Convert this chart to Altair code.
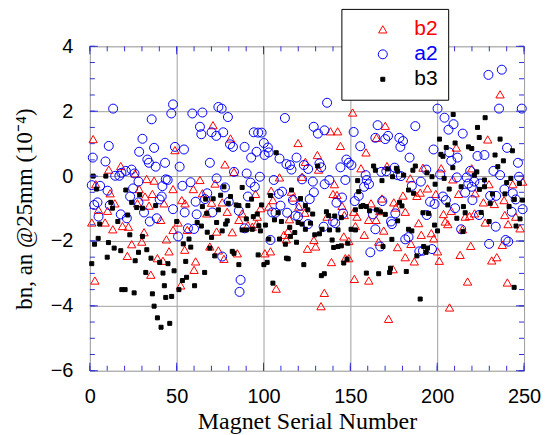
import altair as alt
import pandas as pd

# ---- data (serial number, value in 1e-4) ----
b2_pts = [
 (1.9,1.14),(49,0.8),(10.9,0.2),(17.8,0.31),(26,0.08),(32.7,-0.09),(37,-0.14),(3.4,-0.25),(11.7,-0.53),(28.4,-0.4),
 (36,-0.55),(31.8,-0.63),(47.9,-0.4),(14.4,-0.84),(27.4,-0.84),(34.1,-0.91),(42.7,-0.84),(5,-1.04),(10.2,-1.07),(40.8,-1.35),
 (1.1,-1.43),(8.8,-1.43),(18.8,-1.54),(22.2,-1.56),(13.2,-1.64),(31.2,-1.73),(47.9,-1.66),(44.1,-1.95),(24.1,-2.1),(29.9,-2.02),
 (45.6,-2.32),(21.6,-2.46),(38.9,-2.53),(42.1,-2.61),(35.1,-3.04),(2.9,-3.22),
 (70.9,1.57),(81,1.16),(77.8,0.36),(83,0.13),(63.4,-0.12),(59.6,-0.4),(72.1,-0.23),(64.8,-0.53),(52.9,-0.74),(54.8,-0.84),
 (70.1,-0.82),(76.2,-0.81),(67.3,-1.15),(79.1,-1.1),(87.7,-1.15),(85.8,-1.35),(91,-1.51),(96,-1.47),(50.8,-1.43),(56.1,-1.66),
 (73,-1.71),(82,-1.73),(93.5,-1.56),(54.6,-2.27),(69.1,-2.17),(74,-2.29),(84.9,-2.38),(77.2,-2.55),(60.9,-2.63),(60,-2.89),(52.3,-3.37),
 (138.5,1.38),(142.7,1.38),(119.9,1.02),(144.3,0.93),(131,0.65),(124.1,0.44),(131.7,0.2),(122.2,-0.02),(109.2,-0.04),(140.8,-0.25),
 (95.4,-0.55),(104.4,-0.45),(116.1,-0.48),(117.1,-0.66),(105.4,-0.74),(140,-0.55),(142.3,-0.58),(98.3,-0.99),(103,-0.94),(120.3,-0.94),
 (114.9,-1.33),(123.8,-1.13),(136.6,-1.25),(96.4,-1.25),(146.5,-1.2),(114.2,-1.69),(111.7,-1.81),(113.1,-1.95),(129,-1.97),
 (130,-2.17),(125.3,-2.24),(146.2,-1.86),(100.8,-2.38),(104,-2.32),(139.1,-2.65),(107.3,-3.47),(135,-3.6),(133.1,-4.01),
 (151.3,1.96),(170.1,1.55),(165,1.18),(159,0.73),(156.1,0.24),(171.1,0.31),(191.8,0.26),(184.5,-0.07),(194.4,-0.38),(188.3,-0.61),
 (190.2,-0.51),(180.3,-0.6),(168.2,-0.69),(161.9,-0.84),(145.2,-0.92),(175,-0.81),(176.2,-0.97),(151.9,-1.1),(166.9,-1.08),(181.6,-1.1),
 (153.8,-1.25),(164.8,-1.35),(189.3,-1.45),(160.5,-1.35),(169.2,-1.68),(152.9,-1.54),(158,-1.81),(190.8,-1.81),(149.1,-2),
 (184.9,-2.09),(166.3,-2.02),(177.2,-2.19),(181.6,-2.5),(186.8,-2.63),(147.1,-2.53),(149.1,-2.53),(174.6,-2.87),(152.3,-3.17),(160.6,-3.22),(172,-4.4),
 (236.2,2.52),(229.1,1.13),(211,0.88),(202.3,0.24),(219.9,0.24),(209,-0.1),(229.8,-0.25),(243.5,-0.25),(249.2,-0.17),(199.2,-0.55),
 (212.3,-0.55),(221.8,-0.53),(226.6,-0.81),(232.9,-0.86),(238.5,-0.74),(208.1,-1.07),(203.6,-1.17),(245.2,-1.25),(216.1,-1.25),(218.6,-1.23),
 (221.5,-1.15),(227.6,-1.43),(238.9,-1.2),(240.8,-1.48),(204.6,-1.4),(206.1,-1.48),(214.5,-1.64),(247.7,-1.61),(196.6,-1.76),(198,-1.92),
 (219.3,-2.15),(237.5,-2.12),(200.2,-2.32),(213.2,-2.43),(234.3,-2.5),(231.4,-2.6),(201.2,-2.61),(217.5,-3.25),(240.4,-3.28),(207.1,-4.05),
]
a2_pts = [
 (47.9,2.21),(13.4,2.08),(46.9,1.93),(35.6,1.75),(30.3,1.15),(10.9,0.93),(37,0.87),(49,0.9),(1.7,0.57),(28.4,0.75),
 (33.1,0.51),(34,0.41),(9,0.45),(37.9,0.29),(43.3,0.41),(24,0.2),(20.7,0.16),(18.2,0.1),(14.6,0.01),(17,0.01),
 (25.7,0.08),(28,-0.17),(1.1,-0.28),(5.9,-0.3),(24.9,-0.38),(41.8,-0.31),(44.8,-0.12),(43.7,-0.1),(10.2,-0.45),(23.2,-0.63),
 (41.4,-0.63),(40.2,-0.72),(28,-0.81),(4.4,-0.81),(2.5,-0.89),(11.5,-0.9),(31.2,-1.12),(47.9,-1.02),(5,-1.25),(17.8,-1.18),
 (21.3,-1.3),(34.5,-1.4),(38.5,-1.3),
 (59,1.93),(64.8,1.96),(74,2.13),(75.9,2.08),(79.5,1.82),(63.4,1.52),(64.2,1.29),(70.1,1.35),(72.8,1.24),(76.8,1.35),
 (94.4,1.35),(96.9,1.34),(80.7,0.98),(82.4,0.9),(89.1,0.9),(96,0.75),(92.9,0.57),(54.2,0.82),(51.7,0.29),(69.1,0.41),
 (83,0.13),(90.3,0.08),(73,-0.07),(97.9,-0.02),(53.3,-0.3),(58,-0.19),(77.8,-0.35),(92.5,-0.2),(95,-0.33),(67.6,-0.53),
 (66.3,-0.71),(60.9,-0.79),(80,-0.79),(91,-0.63),(54.6,-1.12),(61.5,-1.18),(70.5,-1.12),(85.8,-1.07),(56.5,-1.61),(60,-1.63),
 (50.8,-1.86),(89.1,-1.61),(76.2,-2.48),(86.8,-3.2),(86.2,-3.57),
 (136.6,2.26),(112.3,1.79),(128.9,1.52),(131.3,1.31),(135.1,1.41),(98.9,1.34),(100.2,1.02),(102.5,0.88),(103,0.73),(100.6,0.65),
 (109.2,0.54),(113.2,0.37),(115.2,0.34),(116.1,0.2),(119,0.57),(123.2,0.34),(125.7,0.22),(132.2,0.39),(133.2,0.27),(144.3,0.27),
 (105.9,-0.12),(122.2,-0.1),(128.4,-0.17),(137.9,-0.12),(135.2,-0.25),(110.7,-0.48),(108.8,-0.55),(129,-0.5),(126.6,-0.71),
 (116.9,-0.74),(142,-0.82),(109.8,-0.91),(121.3,-0.91),(106.9,-1.13),(113.6,-1.13),(118.4,-1.22),(119.9,-1.25),(140,-1.4),(141.3,-1.45),
 (134.6,-1.56),(125.7,-1.48),(104,-1.97),(105,-1.12),
 (151.9,1.36),(165.7,1.57),(171.7,1.24),(170.1,1.14),(164.4,1.18),(178.2,1.18),(180.3,1.08),(178.8,0.9),(187.4,1.54),(155.7,0.92),
 (184.1,0.57),(147.7,0.51),(149.1,0.41),(150.6,0.34),(158.8,0.03),(159.4,-0.12),(160.7,-0.25),(157.9,-0.33),(147.1,-0.12),
 (167.8,0.13),(170.7,0.15),(175.5,0.26),(179.1,0),(177.2,0.03),(185.4,-0.3),(190.6,-0.17),(193.7,0.2),(145.2,-0.66),(152.5,-0.77),
 (154.8,-0.61),(168.4,-0.77),(145.8,-1.15),(163,-1.18),(175.9,-1.15),(173.4,-1.4),(173.9,-1.48),(164.4,-1.64),(181.6,-1.95),(183.5,-1.88),
 (189.7,-2.32),(161.5,-2.35),(167.2,-2.17),(191.8,-2.3),
 (229.5,3.12),(237.2,3.28),(235.6,2.08),(248.7,2.08),(200.2,2.08),(204.2,1.8),(209.4,1.6),(206.5,1.43),(214.7,1.31),(197.9,0.82),
 (207,0.73),(211.7,0.57),(208.1,0.47),(223.2,0.62),(227.2,0.65),(240.2,0.87),(246.5,0.41),(201.7,0.05),(219,0.16),
 (232.4,0.16),(236.2,0.03),(247.1,-0.02),(211.3,-0.04),(217,-0.04),(217.9,-0.23),(221.4,-0.17),(224.7,-0.23),(219.9,-0.33),(216.1,-0.51),
 (230.5,-0.61),(233.9,-0.61),(238.7,-0.41),(243.5,-0.53),(245.2,-0.72),(195.9,-0.79),(198.5,-0.86),(203.3,-0.63),(205,-0.74),(210.3,-0.99),
 (220.3,-0.74),(224.1,-1.2),(242.9,-1.1),(249.2,-1.02),(194,-1.2),(213.8,-1.64),(233.7,-1.56),(197,-2.25),(229.9,-2.09),(239.4,-1.97),(240.9,-2.02),
]
b3_pts = [
 (1.9,0),(9.2,0),(3.8,-0.4),(20.7,-0.43),(28.7,-0.58),(12.1,-0.81),(24.1,-0.81),(37.9,-0.91),(13,-0.99),(27,-0.97),
 (30.3,-0.99),(21.8,-1.2),(5.7,-1.48),(16.1,-1.4),(23,-1.81),(4.8,-1.92),(30.3,-1.86),(2.7,-2.1),(10.7,-2.05),(14,-2.22),
 (17.8,-2.3),(28,-2.35),(32.8,-2.27),(10,-2.5),(26.1,-2.61),(35.2,-2.53),(40.2,-2.66),(45,-2.7),(48.5,-2.92),(1.1,-2.7),
 (32.2,-2.97),(42.1,-2.99),(42.9,-3.38),(18.4,-3.5),(20.3,-3.5),(25.5,-3.6),(36,-3.63),(43.7,-3.74),(47.1,-3.71),(37,-4.01),
 (38.9,-4.37),(41,-4.66),(46,-4.54),
 (77.2,-0.33),(87.7,-0.35),(75.3,-0.59),(81,-0.63),(71,-0.7),(66.7,-0.71),(79.7,-0.84),(84.3,-0.89),(85.8,-0.91),(91,-0.91),
 (93.1,-0.71),(64.8,-0.94),(74,-1.04),(67.3,-1.15),(96.4,-1.17),(90.1,-1.32),(94.1,-1.25),(50,-1.4),(61.8,-1.43),(73,-1.43),
 (79.1,-1.38),(78.2,-1.48),(64.2,-1.54),(67.6,-1.73),(76.2,-1.69),(87.7,-1.66),(90.1,-1.66),(93.5,-1.64),(98.2,-1.69),(70.1,-1.89),
 (57.1,-1.94),(53.8,-2.09),(58.1,-2.19),(69.1,-2.22),(82,-2.32),(83,-2.38),(71.9,-2.46),(96.9,-2.43),(55.2,-2.63),(66.1,-2.97),
 (55.7,-3.12),(53.3,-3.22),(60.3,-3.38),(51.3,-3.5),(85.8,-2.73),
 (107.3,0.72),(131.2,0.31),(116.1,-0.43),(104,-0.6),(121.3,-0.69),(98.9,-0.89),(124.1,-0.91),(125.5,-1.04),(128.3,-1.17),(136.2,-1.1),
 (137.5,-1.22),(141,-1.23),(144.8,-1.28),(101.1,-1.51),(106.3,-1.35),(108.4,-1.13),(110.3,-1.4),(119.9,-1.43),(122.2,-1.48),(127,-1.45),
 (97.3,-1.53),(115.1,-1.58),(118,-1.74),(124.1,-1.64),(133.7,-1.64),(138,-1.66),(142.9,-1.66),(129.5,-1.81),(132.2,-1.78),
 (109.2,-1.94),(103,-1.94),(112.6,-2.1),(115.5,-1.86),(119,-2.04),(139.5,-1.97),(140.4,-2.2),(142.9,-2.17),(144.8,-2.15),
 (100.2,-2.73),(102.1,-2.66),(113.2,-2.53),(114.2,-2.55),(123.2,-2.73),(133.3,-3.07),(135,-3.01),(105.4,-3.3),
 (163.4,0.31),(164.4,0.18),(171.5,0.22),(176.5,0.24),(177.2,0.15),(186,0.18),(187.4,0.31),(194.1,0.1),(154.2,-0.14),(168.2,-0.14),
 (180.7,0.03),(174.3,-0.02),(154.8,-0.48),(183.5,-0.43),(186.4,-0.53),(156.1,-0.94),(178.3,-0.81),(179.7,-0.92),(157.3,-0.91),(159.2,-0.94),
 (152.9,-1.04),(161,-1.07),(165,-1.04),(167.3,-1.1),(170.1,-1.18),(191.8,-1.13),(195,-1.15),(150.4,-1.64),(152.9,-1.66),
 (177.2,-1.38),(183.5,-1.64),(185.4,-1.69),(173.9,-1.95),(148.5,-2.07),(168.8,-2.17),(192.2,-2.17),(194.4,-2.22),(193.6,-2.35),
 (188.3,-2.46),(148.1,-2.56),(146.2,-2.68),(173.1,-2.84),(159.2,-2.99),(166.3,-3.01),(172.6,-2.97),(182.2,-2.94),(190.2,-3.79),
 (209.2,1.9),(227.6,1.8),(223.2,1.5),(224.2,1.19),(201.3,1.14),(236.2,1.14),(210.3,1.02),(205.2,0.88),(218,0.9),(219.9,0.85),
 (233.3,0.65),(243.3,0.78),(202.1,0.67),(203.3,0.61),(238.1,0.47),(209,0.26),(234.9,0.29),(197,-0.02),(204,-0.07),
 (221.4,0.03),(222.8,0.13),(227.2,-0.12),(240,-0.2),(242.4,-0.07),(247.3,-0.23),(198.8,-0.25),(206.9,-0.4),(213.8,-0.33),(227.2,-0.33),
 (224.3,-0.41),(231.8,-0.55),(230.5,-0.84),(239,-0.55),(244.4,-0.72),(249.1,-0.74),(206.1,-0.89),(215.1,-0.94),(241.4,-0.94),
 (216.1,-1.13),(225.3,-1.12),(247.7,-1.32),(211.3,-1.3),(229.9,-1.4),(245.4,-1.54),(198.5,-1.51),(200.2,-1.69),(214.8,-1.71),
 (244.3,-3.43),
]

series_names = ["b2", "a2", "b3"]
series_colors = ["#ff0000", "#0000ff", "#000000"]
series_fills = ["transparent", "transparent", "#000000"]
series_shapes = ["triangle-up", "circle", "square"]
series_sizes = [70, 81, 16]

x_labels = [0, 50, 100, 150, 200, 250]
y_labels = [-6, -4, -2, 0, 2, 4]
x_minor = list(range(0, 251, 10))
y_minor = [v / 2 for v in range(-12, 9)]

W, H = 435, 325
FRAME = "#3030d8"

rows = []
for name, pts in zip(series_names, [b2_pts, a2_pts, b3_pts]):
    for sx, sy in pts:
        rows.append({"serial": sx, "value": sy, "series": name})
df = pd.DataFrame(rows)

xscale = alt.Scale(domain=[0, 250], nice=False, zero=False)
yscale = alt.Scale(domain=[-6, 4], nice=False, zero=False)
xaxis = alt.Axis(values=x_labels, grid=True, gridColor="#a0a0a0", gridWidth=1,
                 ticks=False, tickSize=0, domain=False, labelFont="Liberation Sans",
                 labelFontSize=20, labelColor="black", labelPadding=16,
                 titleFont="Liberation Serif", titleFontSize=24, titleFontWeight="normal",
                 titleColor="black", titlePadding=3, labelFlush=False)
yaxis = alt.Axis(values=y_labels, grid=True, gridColor="#a0a0a0", gridWidth=1,
                 ticks=False, tickSize=0, domain=False, labelFont="Liberation Sans",
                 labelFontSize=20, labelColor="black", labelPadding=17,
                 titleFont="Liberation Serif", titleFontSize=23, titleFontWeight="normal",
                 titleColor="black", titlePadding=14, labelFlush=False)
X = alt.X("serial:Q", scale=xscale, axis=xaxis, title="Magnet Serial Number")
Y = alt.Y("value:Q", scale=yscale, axis=yaxis, title="bn, an @25mm  (10\u207b\u2074)")

label_color = alt.ExprRef(
    "datum.value == 'b2' ? '#ff0000' : datum.value == 'a2' ? '#0000ff' : '#000000'")

legend = alt.Legend(
    title=None, orient="none", legendX=252, legendY=-37.5, padding=10,
    symbolOffset=21, labelOffset=21, labelFont="Liberation Sans", labelFontSize=21,
    rowPadding=3, symbolStrokeWidth=1, strokeColor="black", fillColor="white",
    labelColor=label_color, labelExpr="datum.label + '\u00a0'",
)

points = alt.Chart(df).mark_point(opacity=1, strokeWidth=1).encode(
    x=X, y=Y,
    stroke=alt.Stroke("series:N", scale=alt.Scale(domain=series_names, range=series_colors), legend=legend),
    fill=alt.Fill("series:N", scale=alt.Scale(domain=series_names, range=series_fills), legend=legend),
    shape=alt.Shape("series:N", scale=alt.Scale(domain=series_names, range=series_shapes), legend=legend),
    size=alt.Size("series:N", scale=alt.Scale(type="ordinal", domain=series_names, range=series_sizes), legend=legend),
)

xminor_df = pd.DataFrame({"serial": x_minor})
xmajor_df = pd.DataFrame({"serial": x_labels})
yminor_df = pd.DataFrame({"value": y_minor})
ymajor_df = pd.DataFrame({"value": y_labels})

def xt(d, y0, y1):
    return alt.Chart(d).mark_rule(color=FRAME, strokeWidth=1).encode(
        x=X, y=alt.value(y0), y2=alt.value(y1))

def yt(d, x0, x1):
    return alt.Chart(d).mark_rule(color=FRAME, strokeWidth=1).encode(
        y=Y, x=alt.value(x0), x2=alt.value(x1))

ticks = [
    xt(xminor_df, H, H - 5), xt(xminor_df, 0, 5),
    xt(xmajor_df, H, H - 8), xt(xmajor_df, 0, 8),
    yt(yminor_df, 0, 5), yt(yminor_df, W, W - 5),
    yt(ymajor_df, 0, 8), yt(ymajor_df, W, W - 8),
]

chart = alt.layer(points, *ticks).properties(
    width=W, height=H,
    padding={"left": 5, "top": 0, "right": 5, "bottom": 0},
).configure_view(stroke=FRAME, strokeWidth=1).configure_legend(strokeWidth=2).configure(background="white")

chart.save("out.html", embed_options={"renderer": "svg", "actions": False})
